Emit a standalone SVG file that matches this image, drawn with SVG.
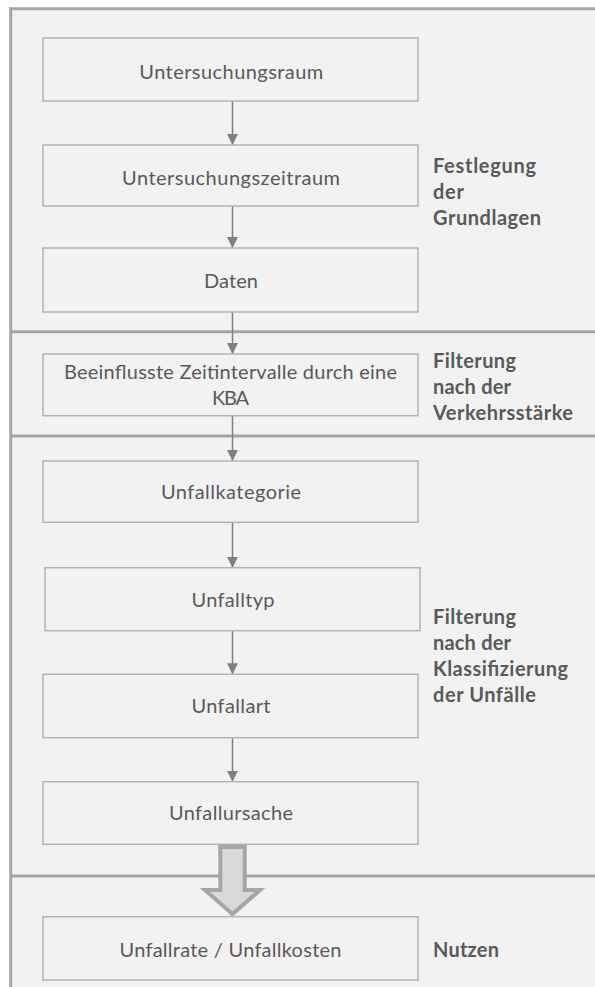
<svg xmlns="http://www.w3.org/2000/svg" width="595" height="987" viewBox="0 0 595 987">
  <defs>
    <marker id="tip" viewBox="0 0 11 11" refX="11" refY="5.5" markerWidth="11" markerHeight="11" markerUnits="userSpaceOnUse" orient="auto">
      <path d="M0,0 L11,5.5 L0,11 Z" fill="#7f7f7f"/>
    </marker>
    <style>
      .frame { fill: none; stroke: #a6a6a6; stroke-width: 3; }
      .box { fill: #f2f2f2; stroke: #b3b3b3; stroke-width: 1.5; }
      .lbl { font-family: Lato, "Liberation Sans", sans-serif; font-size: 20px; fill: #595959; text-anchor: middle; }
      .sec { font-family: Lato, "Liberation Sans", sans-serif; font-size: 20px; font-weight: bold; fill: #595959; }
      .link { stroke: #7f7f7f; stroke-width: 1.5; fill: none; marker-end: url(#tip); }
      .bigarrow { fill: #d9d9d9; stroke: #a6a6a6; stroke-width: 4; stroke-linejoin: miter; }
    </style>
  </defs>

  <!-- page background and frame -->
  <rect x="0" y="0" width="595" height="987" fill="#ffffff"/>
  <rect x="10.7" y="8.8" width="590" height="985" fill="#f2f2f2"/>
  <g id="frame">
    <line class="frame" x1="9.2" y1="8.8" x2="595" y2="8.8"/>
    <line class="frame" x1="10.7" y1="7.3" x2="10.7" y2="987"/>
    <line class="frame" x1="10.7" y1="331.7" x2="595" y2="331.7"/>
    <line class="frame" x1="10.7" y1="436" x2="595" y2="436"/>
    <line class="frame" x1="10.7" y1="876" x2="595" y2="876"/>
  </g>

  <!-- connectors -->
  <g id="connectors">
    <line class="link" x1="232.5" y1="101" x2="232.5" y2="145"/>
    <line class="link" x1="232.5" y1="206" x2="232.5" y2="248"/>
    <line class="link" x1="232.5" y1="312" x2="232.5" y2="354"/>
    <line class="link" x1="232.5" y1="415.7" x2="232.5" y2="461"/>
    <line class="link" x1="232.5" y1="522.3" x2="232.5" y2="567.7"/>
    <line class="link" x1="232.5" y1="630.7" x2="232.5" y2="674.3"/>
    <line class="link" x1="232.5" y1="737.7" x2="232.5" y2="781.7"/>
    <polygon class="bigarrow" points="220.3,847 244.7,847 244.7,890 260,890 232.5,914 205,890 220.3,890"/>
  </g>

  <!-- process steps -->
  <g id="untersuchungsraum">
    <rect class="box" x="43" y="38" width="375" height="63"/>
    <text class="lbl" x="231.3" y="79" textLength="184" lengthAdjust="spacing">Untersuchungsraum</text>
  </g>
  <g id="untersuchungszeitraum">
    <rect class="box" x="43" y="145" width="375" height="61"/>
    <text class="lbl" x="231" y="185" textLength="218" lengthAdjust="spacing">Untersuchungszeitraum</text>
  </g>
  <g id="daten">
    <rect class="box" x="43" y="248" width="375" height="64"/>
    <text class="lbl" x="231" y="288" textLength="54" lengthAdjust="spacing">Daten</text>
  </g>
  <g id="zeitintervalle">
    <rect class="box" x="43" y="354" width="375" height="61.7"/>
    <text class="lbl" x="230.5" y="379" textLength="333" lengthAdjust="spacing">Beeinflusste Zeitintervalle durch eine</text>
    <text class="lbl" x="230.5" y="405" textLength="37" lengthAdjust="spacing">KBA</text>
  </g>
  <g id="unfallkategorie">
    <rect class="box" x="43" y="461" width="375" height="61.3"/>
    <text class="lbl" x="231" y="499.3" textLength="140" lengthAdjust="spacing">Unfallkategorie</text>
  </g>
  <g id="unfalltyp">
    <rect class="box" x="45" y="567.7" width="375" height="63"/>
    <text class="lbl" x="233" y="606.7" textLength="83" lengthAdjust="spacing">Unfalltyp</text>
  </g>
  <g id="unfallart">
    <rect class="box" x="43" y="674.3" width="375" height="63.4"/>
    <text class="lbl" x="231" y="713.3" textLength="79" lengthAdjust="spacing">Unfallart</text>
  </g>
  <g id="unfallursache">
    <rect class="box" x="43" y="781.7" width="375" height="62.6"/>
    <text class="lbl" x="231" y="820" textLength="124" lengthAdjust="spacing">Unfallursache</text>
  </g>
  <g id="unfallrate">
    <rect class="box" x="43" y="916.7" width="375" height="63.3"/>
    <text class="lbl" x="230.5" y="956.7" textLength="222" lengthAdjust="spacing">Unfallrate / Unfallkosten</text>
  </g>

  <!-- section captions -->
  <g id="sec-grundlagen">
    <text class="sec" x="433" y="173" textLength="103" lengthAdjust="spacing">Festlegung</text>
    <text class="sec" x="433" y="199" textLength="31" lengthAdjust="spacing">der</text>
    <text class="sec" x="433" y="225" textLength="108" lengthAdjust="spacing">Grundlagen</text>
  </g>
  <g id="sec-verkehrsstaerke">
    <text class="sec" x="433" y="368" textLength="83" lengthAdjust="spacing">Filterung</text>
    <text class="sec" x="433" y="394" textLength="78" lengthAdjust="spacing">nach der</text>
    <text class="sec" x="433" y="420" textLength="140" lengthAdjust="spacing">Verkehrsstärke</text>
  </g>
  <g id="sec-klassifizierung">
    <text class="sec" x="433" y="624" textLength="83" lengthAdjust="spacing">Filterung</text>
    <text class="sec" x="433" y="650" textLength="78" lengthAdjust="spacing">nach der</text>
    <text class="sec" x="433" y="676" textLength="135" lengthAdjust="spacing">Klassifizierung</text>
    <text class="sec" x="433" y="702" textLength="103" lengthAdjust="spacing">der Unfälle</text>
  </g>
  <g id="sec-nutzen">
    <text class="sec" x="433" y="957" textLength="66" lengthAdjust="spacing">Nutzen</text>
  </g>
</svg>
